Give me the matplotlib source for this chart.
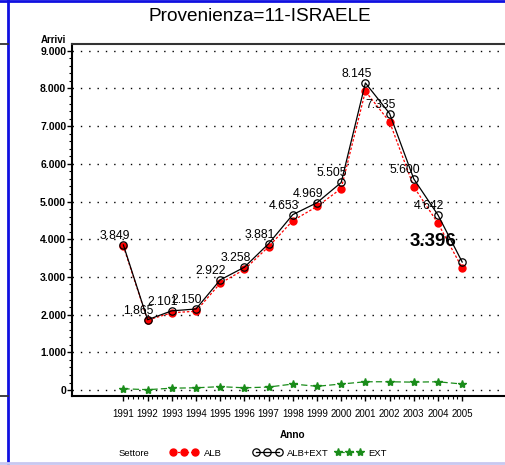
import matplotlib
matplotlib.use('Agg')
import matplotlib.pyplot as plt
from matplotlib.ticker import FuncFormatter, MultipleLocator, FixedLocator
from matplotlib.lines import Line2D
from matplotlib.transforms import offset_copy

# data
anni = [1991, 1992, 1993, 1994, 1995, 1996, 1997, 1998, 1999, 2000, 2001, 2002, 2003, 2004, 2005]
alb_ext = [3849, 1865, 2101, 2150, 2922, 3258, 3881, 4653, 4969, 5505, 8145, 7335, 5600, 4642, 3396]
ext = [35, 10, 50, 60, 90, 60, 80, 160, 100, 160, 220, 220, 210, 220, 160]
alb = [3814, 1855, 2051, 2090, 2832, 3198, 3801, 4493, 4869, 5345, 7925, 7115, 5390, 4422, 3236]

SANS = ['Liberation Sans', 'DejaVu Sans']
VERDE = '#1a8c1a'


def fmt_it(v, pos=None):
    # thousands with a dot, italian style
    if v == 0:
        return '0'
    return '{:,.0f}'.format(v).replace(',', '.')


fig = plt.figure(figsize=(5.06, 4.65), dpi=100)
ax = fig.add_axes([0.1429, 0.149, 0.8571, 0.7557])

l_alb, = ax.plot(anni, alb, color='red', linestyle=(0, (2, 1.5)), linewidth=0.9,
                 marker='o', markersize=5, markerfacecolor='red', markeredgecolor='red', zorder=3)
l_tot, = ax.plot(anni, alb_ext, color='black', linewidth=0.9, marker='o', markersize=5.3,
                 markerfacecolor='none', markeredgecolor='black', markeredgewidth=0.9, zorder=4)
l_ext, = ax.plot(anni, ext, color=VERDE, linestyle=(0, (5, 2.5)), linewidth=0.9, marker='*',
                 markersize=6, markerfacecolor=VERDE, markeredgecolor=VERDE, zorder=3)

# value labels on ALB+EXT
for i, (a, v) in enumerate(zip(anni, alb_ext)):
    if i == len(anni) - 1:
        ax.annotate(fmt_it(v), (a, v), xytext=(-29, 21), textcoords='offset pixels',
                    ha='center', va='center', fontsize=13.5, fontweight='bold', family=SANS, zorder=5)
    else:
        ax.annotate(fmt_it(v), (a, v), xytext=(-9, 9), textcoords='offset pixels',
                    ha='center', va='center', fontsize=8.8, family=SANS, zorder=5)

ax.set_xlim(1988.89, 2006.81)
ax.set_ylim(-150, 9170)
ax.set_xticks(anni)
ax.set_xticklabels([str(a) for a in anni], family=SANS, fontsize=7)
ax.yaxis.set_major_locator(MultipleLocator(1000))
ax.yaxis.set_minor_locator(MultipleLocator(200))
ax.yaxis.set_major_formatter(FuncFormatter(fmt_it))
for lab in ax.get_yticklabels():
    lab.set_family(SANS)
    lab.set_fontsize(7.5)
    lab.set_fontweight('bold')

# minor x ticks only inside the year range
minor = [anni[0] + k * 0.2 for k in range(int((anni[-1] - anni[0]) * 5) + 1)]
ax.xaxis.set_minor_locator(FixedLocator(minor))

ax.tick_params(axis='both', which='major', direction='out', length=3.6, width=1, pad=0.8)
ax.tick_params(axis='both', which='minor', direction='out', length=2.2, width=0.8)
ax.tick_params(axis='x', which='major', pad=6)

ax.grid(axis='y', which='major', linestyle=(0, (1, 5)), color='black', linewidth=1)
ax.set_axisbelow(True)
ax.spines['right'].set_visible(False)
for s in ['left', 'bottom']:
    ax.spines[s].set_linewidth(1.5)
ax.spines['top'].set_linewidth(1.5)
ax.spines['top'].set_color('#333333')

ax.set_xlabel('Anno', family=SANS, fontsize=7.2, fontweight='bold')
ax.xaxis.set_label_coords((1998 - 1988.89) / (2006.81 - 1988.89), -0.098)
ax.text(0.0, 1.0, 'Arrivi', transform=offset_copy(ax.transAxes, fig=fig, x=-6, y=-1, units='dots'),
        ha='right', va='bottom', family=SANS, fontsize=7, fontweight='bold')

fig.text(0.514, 1 - 16.5 / 465, 'Provenienza=11-ISRAELE', ha='center', va='center',
         family=SANS, fontsize=13.7)

# legend: one small legend per series, placed like the reference
ly = 1 - 453 / 465
for line, lab, x0 in [(l_alb, 'ALB', 170), (l_tot, 'ALB+EXT', 253), (l_ext, 'EXT', 335)]:
    leg = fig.legend([line], [lab], loc='center left', bbox_to_anchor=(x0 / 506, ly),
                     numpoints=3, frameon=False, handlelength=3.0, handletextpad=0.55,
                     borderpad=0, borderaxespad=0, prop={'family': SANS, 'size': 6.8})
fig.text(119 / 506, ly, 'Settore', ha='left', va='center', family=SANS, fontsize=6.8)

# page frame pieces around the plot
fig.add_artist(Line2D([8 / 506, 8 / 506], [0, 1], color='#1010e0', linewidth=2))
fig.add_artist(Line2D([0, 1], [1 - 1.5 / 465, 1 - 1.5 / 465], color='#1010e0', linewidth=2))
fig.add_artist(Line2D([0, 1], [2 / 465, 2 / 465], color='#c8c8f0', linewidth=2))
fig.add_artist(Line2D([0, 8 / 506], [1 - 44.3 / 465, 1 - 44.3 / 465], color='#333333', linewidth=1.3))
fig.add_artist(Line2D([0, 8 / 506], [1 - 395.7 / 465, 1 - 395.7 / 465], color='#333333', linewidth=1.3))

fig.savefig('out.png', dpi=100)
